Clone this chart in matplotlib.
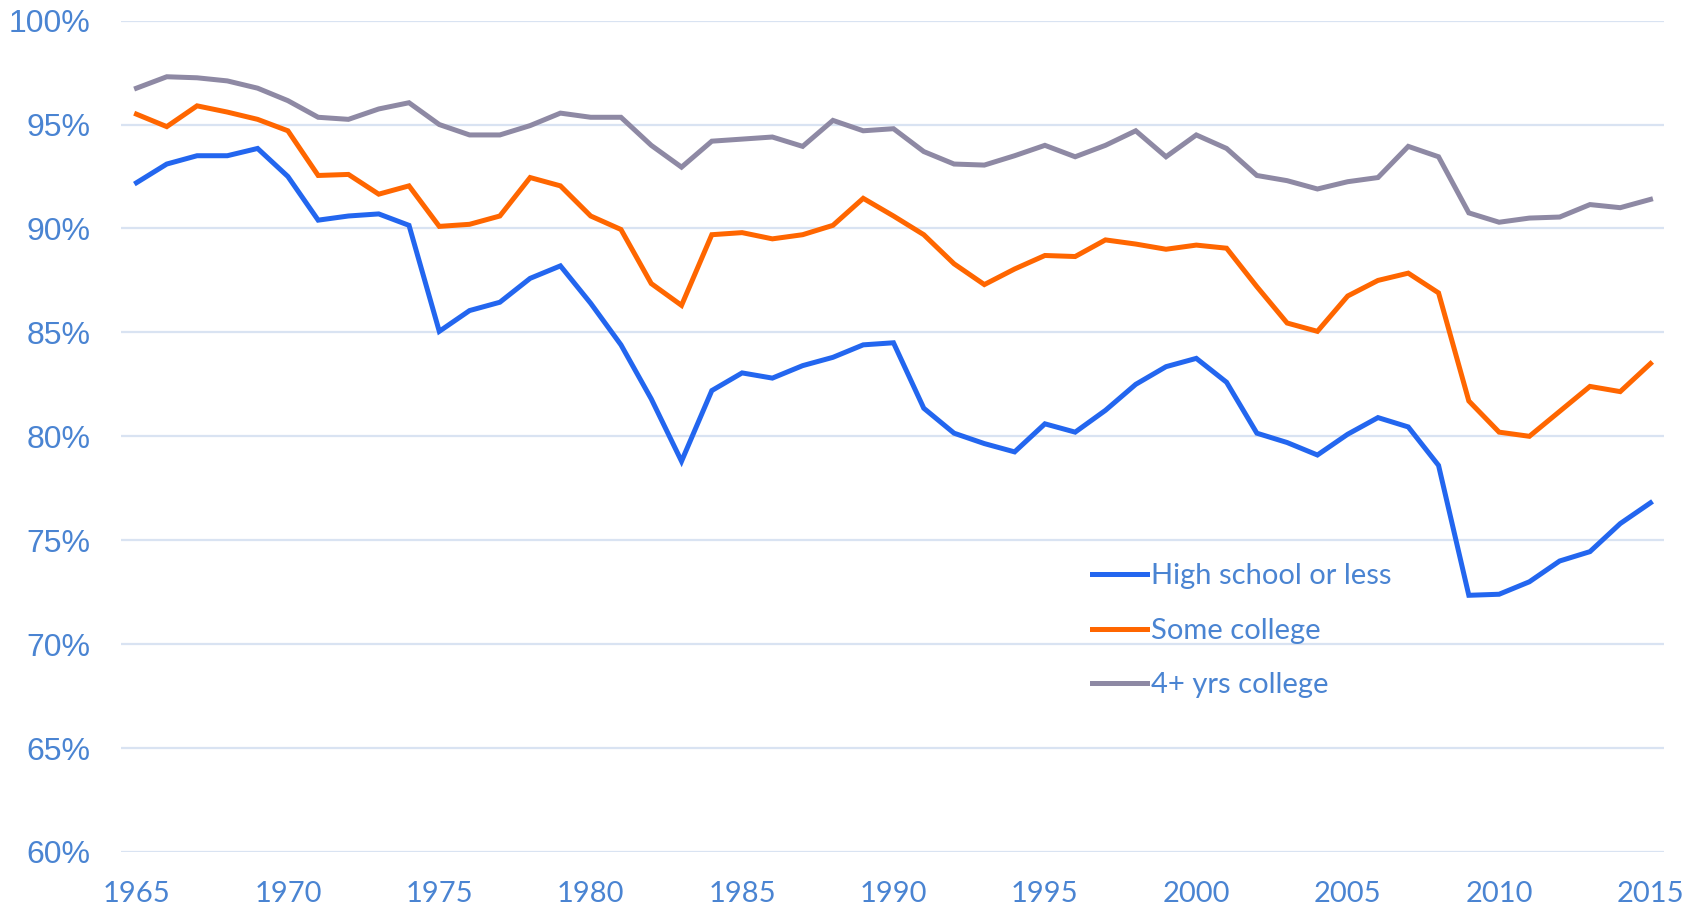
import matplotlib
matplotlib.use('Agg')
import matplotlib.pyplot as plt
from matplotlib.ticker import FuncFormatter

years = list(range(1965, 2016))

# share of each group, percent
high_school = [92.2, 93.1, 93.5, 93.5, 93.85, 92.5, 90.4, 90.6, 90.7, 90.15,
               85.05, 86.05, 86.45, 87.6, 88.2, 86.4, 84.4, 81.8, 78.8, 82.2,
               83.05, 82.8, 83.4, 83.8, 84.4, 84.5, 81.35, 80.15, 79.65, 79.25,
               80.6, 80.2, 81.25, 82.5, 83.35, 83.75, 82.6, 80.15, 79.7, 79.1,
               80.1, 80.9, 80.45, 78.6, 72.35, 72.4, 73.0, 74.0, 74.45, 75.8,
               76.8]
some_college = [95.5, 94.9, 95.9, 95.6, 95.25, 94.7, 92.55, 92.6, 91.65, 92.05,
                90.1, 90.2, 90.6, 92.45, 92.05, 90.6, 89.95, 87.35, 86.3, 89.7,
                89.8, 89.5, 89.7, 90.15, 91.45, 90.6, 89.7, 88.3, 87.3, 88.05,
                88.7, 88.65, 89.45, 89.25, 89.0, 89.2, 89.05, 87.2, 85.45, 85.05,
                86.75, 87.5, 87.85, 86.9, 81.7, 80.2, 80.0, 81.2, 82.4, 82.15,
                83.5]
four_yrs = [96.75, 97.3, 97.25, 97.1, 96.75, 96.15, 95.35, 95.25, 95.75, 96.05,
            95.0, 94.5, 94.5, 94.95, 95.55, 95.35, 95.35, 94.0, 92.95, 94.2,
            94.3, 94.4, 93.95, 95.2, 94.7, 94.8, 93.7, 93.1, 93.05, 93.5,
            94.0, 93.45, 94.0, 94.7, 93.45, 94.5, 93.85, 92.55, 92.3, 91.9,
            92.25, 92.45, 93.95, 93.45, 90.75, 90.3, 90.5, 90.55, 91.15, 91.0,
            91.4]

labels = ['High school or less', 'Some college', '4+ yrs college']
colors = ['#2366ef', '#ff6600', '#8e89a4']
text_color = '#4a84d2'
grid_color = '#d9e3f2'

fig = plt.figure(figsize=(17, 9.05), dpi=100)
ax = fig.add_axes([0.0712, 0.0586, 0.9077, 0.9186])

for series, lab, col in zip([high_school, some_college, four_yrs], labels, colors):
    ax.plot(years, series, color=col, lw=3.6, label=lab, solid_joinstyle='miter')

ax.set_xlim(1964.49, 2015.45)
ax.set_ylim(60, 100)
ax.set_yticks(range(60, 101, 5))
ax.set_xticks(range(1965, 2016, 5))
ax.yaxis.set_major_formatter(FuncFormatter(lambda v, p: f'{v:.0f}%'))

ax.grid(axis='y', color=grid_color, lw=1.6)
ax.set_axisbelow(True)
for s in ax.spines.values():
    s.set_visible(False)

ax.tick_params(axis='y', length=0, pad=22, labelsize=23, labelcolor=text_color)
ax.tick_params(axis='x', length=0, pad=21, labelcolor=text_color)
for t in ax.get_yticklabels():
    t.set_fontfamily('Liberation Sans')
for t in ax.get_xticklabels():
    t.set_fontfamily('Lato')
    t.set_fontsize(21)

leg = ax.legend(loc='upper left', bbox_to_anchor=(0.629, 0.347), frameon=False,
                prop={'family': 'Lato', 'size': 21}, handlelength=1.9,
                handletextpad=0.12, labelspacing=0.97, borderpad=0, borderaxespad=0)
for t in leg.get_texts():
    t.set_color(text_color)

fig.savefig('out.png', dpi=100)
